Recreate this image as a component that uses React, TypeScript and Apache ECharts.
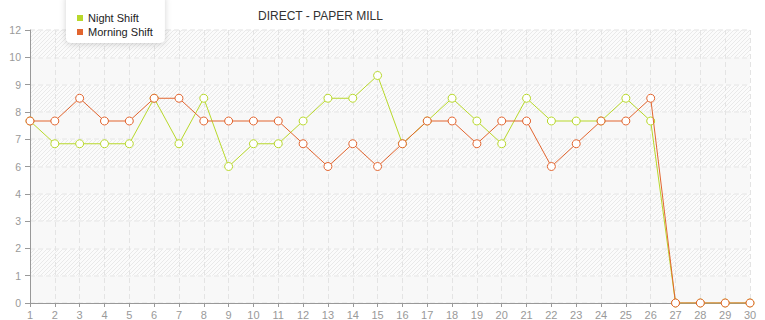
import { useEffect, useRef } from 'react';
import * as echarts from 'echarts';

// Day of month
const days = [
  '1', '2', '3', '4', '5', '6', '7', '8', '9', '10',
  '11', '12', '13', '14', '15', '16', '17', '18', '19', '20',
  '21', '22', '23', '24', '25', '26', '27', '28', '29', '30',
];

const nightShift = [8, 7, 7, 7, 7, 9, 7, 9, 6, 7, 7, 8, 9, 9, 10, 7, 8, 9, 8, 7, 9, 8, 8, 8, 9, 8, 0, 0, 0, 0];
const morningShift = [8, 8, 9, 8, 8, 9, 9, 8, 8, 8, 8, 7, 6, 7, 6, 7, 8, 8, 7, 8, 8, 6, 7, 8, 8, 9, 0, 0, 0, 0];

const yMin = 0;
const yMax = 12;
const yStep = 1.2;

const GREEN = '#b8d82b';
const ORANGE = '#e2652f';
const LABEL_FONT = '"Liberation Sans", Arial, sans-serif';

// Small tile of diagonal "/" hatching used for every other band of the plot area.
function makeHatchTile(): HTMLCanvasElement {
  const size = 4;
  const canvas = document.createElement('canvas');
  canvas.width = size;
  canvas.height = size;
  const ctx = canvas.getContext('2d')!;
  const img = ctx.createImageData(size, size);
  for (let y = 0; y < size; y++) {
    for (let x = 0; x < size; x++) {
      const onLine = (x + y) % size === size - 1;
      const v = onLine ? 0xe9 : 0xfb;
      const i = (y * size + x) * 4;
      img.data[i] = v;
      img.data[i + 1] = v;
      img.data[i + 2] = v;
      img.data[i + 3] = 255;
    }
  }
  ctx.putImageData(img, 0, 0);
  return canvas;
}

export default function App() {
  const ref = useRef<HTMLDivElement>(null);

  useEffect(() => {
    if (!ref.current) return;
    const chart = echarts.init(ref.current, null, { renderer: 'svg' });
    const hatch = { image: makeHatchTile().toDataURL(), repeat: 'repeat' as const };

    const marker = (color: string) => ({
      symbol: 'circle',
      symbolSize: 8,
      showAllSymbol: true,
      itemStyle: { color: '#ffffff', borderColor: color, borderWidth: 1 },
      lineStyle: { color, width: 1 },
      emphasis: { disabled: true },
    });

    chart.setOption({
      animation: false,
      color: [GREEN, ORANGE],
      title: {
        text: 'DIRECT - PAPER MILL',
        left: 258,
        top: 10,
        padding: 0,
        textStyle: { fontFamily: LABEL_FONT, fontSize: 12, fontWeight: 'normal', color: '#333333' },
      },
      legend: {
        orient: 'vertical',
        left: 66,
        top: -6,
        padding: [17, 12, 4, 11],
        itemGap: 0,
        itemWidth: 6,
        itemHeight: 6,
        icon: 'rect',
        backgroundColor: '#ffffff',
        borderRadius: 5,
        shadowColor: 'rgba(0,0,0,0.18)',
        shadowBlur: 6,
        shadowOffsetY: 1,
        textStyle: { fontFamily: LABEL_FONT, fontSize: 11, color: '#222222', lineHeight: 14 },
        data: [
          { name: 'Night Shift', itemStyle: { color: GREEN, borderWidth: 0 } },
          { name: 'Morning Shift', itemStyle: { color: ORANGE, borderWidth: 0 } },
        ],
      },
      grid: { left: 30, right: 15, top: 30, bottom: 12, containLabel: false },
      xAxis: {
        type: 'category',
        data: days,
        boundaryGap: false,
        axisLine: { lineStyle: { color: '#999999', width: 1 } },
        axisTick: { alignWithLabel: true, length: 4, lineStyle: { color: '#999999' } },
        axisLabel: { margin: 6, color: '#999999', fontSize: 11, fontFamily: LABEL_FONT, interval: 0 },
        splitLine: { show: true, lineStyle: { color: '#e4e4e4', type: [5, 3], width: 1 } },
      },
      yAxis: {
        type: 'value',
        min: yMin,
        max: yMax,
        interval: yStep,
        axisLine: { show: true, lineStyle: { color: '#999999', width: 1 } },
        axisTick: { show: true, length: 5, lineStyle: { color: '#999999' } },
        axisLabel: {
          margin: 9,
          color: '#999999',
          fontSize: 10.5,
          fontFamily: LABEL_FONT,
          formatter: (v: number) => String(Math.floor(v + 1e-9)),
        },
        splitLine: { show: true, lineStyle: { color: '#ebebeb', type: [5, 3], width: 1.5 } },
        splitArea: { show: true, areaStyle: { color: ['#f8f8f8', hatch] } },
      },
      series: [
        { name: 'Night Shift', type: 'line', data: nightShift, ...marker(GREEN), z: 2 },
        { name: 'Morning Shift', type: 'line', data: morningShift, ...marker(ORANGE), z: 3 },
      ],
    });

    return () => chart.dispose();
  }, []);

  return (
    <div
      ref={ref}
      style={{ position: 'fixed', left: 0, top: 0, width: 765, height: 320, background: '#ffffff' }}
    />
  );
}
